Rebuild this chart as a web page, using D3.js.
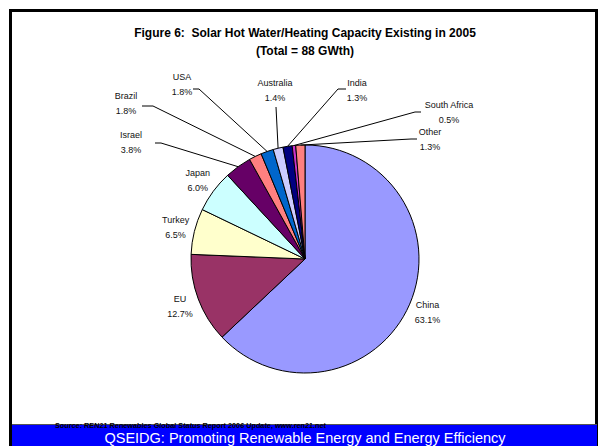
<!doctype html>
<html>
  <head>
    <title>Solar hot water capacity 2005</title>
    <style>
      body { margin: 0; background: #fff; }
      svg { display: block; font-family: "Liberation Sans", Arial, sans-serif; }
      .pre { white-space: pre; }
    </style>
  </head>
  <script src="https://cdnjs.cloudflare.com/ajax/libs/d3/7.8.5/d3.min.js"></script>
  <body>
    <svg id="chart" width="600" height="446"></svg>
    <script>

    // data (percent of 88 GWth)
    var countries = ["China", "EU", "Turkey", "Japan", "Israel", "Brazil", "USA", "Australia", "India", "South Africa", "Other"];
    var shares = [63.1, 12.7, 6.5, 6.0, 3.8, 1.8, 1.8, 1.4, 1.3, 0.5, 1.3];

    var sliceColors = ["#9999FF", "#993366", "#FFFFCC", "#CCFFFF", "#660066", "#FF8080", "#0066CC", "#CCCCFF", "#000080", "#CC33CC", "#FF8080"];

    // hand placed labels with leader lines (label x, name-line y, line start, elbow)
    var leaderLabels = {
      "Israel":       { x: 131, y: 135, sx: 155, sy: 143, ex: 161 },
      "Brazil":       { x: 126, y: 96,  sx: 142, sy: 106, ex: 153 },
      "USA":          { x: 182, y: 77,  sx: 193, sy: 89,  ex: 199 },
      "Australia":    { x: 275, y: 83,  sx: 276, sy: 107, ex: 276 },
      "India":        { x: 357, y: 83,  sx: 346, sy: 89,  ex: 338 },
      "South Africa": { x: 449, y: 105, sx: 421, sy: 112, ex: 415 },
      "Other":        { x: 430, y: 132, sx: 417, sy: 139, ex: 411 }
    };

    var svg = d3.select("#chart");
    var cx = 305, cy = 259, r = 114;

    // frame
    svg.append("rect")
      .attr("x", 10.5).attr("y", 10.5)
      .attr("width", 586).attr("height", 440)
      .attr("fill", "#fff")
      .attr("stroke", "#000").attr("stroke-width", 3);

    // title
    svg.append("text")
      .attr("class", "pre")
      .attr("x", 305).attr("y", 37)
      .attr("text-anchor", "middle")
      .style("font-weight", "bold").style("font-size", "12px")
      .text("Figure 6:  Solar Hot Water/Heating Capacity Existing in 2005");
    svg.append("text")
      .attr("x", 305).attr("y", 55)
      .attr("text-anchor", "middle")
      .style("font-weight", "bold").style("font-size", "12px")
      .text("(Total = 88 GWth)");

    var rows = countries.map(function(c, i) { return { name: c, value: shares[i], color: sliceColors[i] }; });

    var pie = d3.pie().sort(null).value(function(d) { return d.value; });
    var arc = d3.arc().innerRadius(0).outerRadius(r);
    var edgeArc = d3.arc().innerRadius(r).outerRadius(r);
    var labelArc = d3.arc().innerRadius(r * 1.17).outerRadius(r * 1.17);

    var g = svg.append("g").attr("transform", "translate(" + cx + "," + cy + ")");
    var arcs = pie(rows);

    g.selectAll("path")
      .data(arcs)
      .enter().append("path")
      .attr("d", arc)
      .attr("fill", function(d) { return d.data.color; })
      .attr("stroke", "#000")
      .attr("stroke-width", 1)
      .attr("stroke-linejoin", "round");

    // labels
    arcs.forEach(function(d) {
      var name = d.data.name;
      var lx, ly;
      var spot = leaderLabels[name];
      if (spot) {
        lx = spot.x; ly = spot.y;
        var e = edgeArc.centroid(d);
        var pts = [[spot.sx, spot.sy], [spot.ex, spot.sy], [cx + e[0], cy + e[1]]];
        if (name === "Australia") pts = [[spot.sx, spot.sy], [cx + e[0], cy + e[1]]];
        svg.append("path")
          .attr("d", d3.line()(pts))
          .attr("fill", "none")
          .attr("stroke", "#000")
          .attr("stroke-width", 1);
      } else {
        var c = labelArc.centroid(d);
        lx = cx + c[0]; ly = cy + c[1] - 7;
      }
      var t = svg.append("text")
        .attr("text-anchor", "middle")
        .style("font-size", "9px")
        .attr("fill", "#111");
      t.append("tspan").attr("x", lx).attr("y", ly + 3.2).text(name);
      t.append("tspan").attr("x", lx).attr("y", ly + 18.2).text(d.data.value.toFixed(1) + "%");
    });

    // bottom banner
    svg.append("rect")
      .attr("x", 12).attr("y", 425)
      .attr("width", 585).attr("height", 21)
      .attr("fill", "#0000FF");
    svg.append("line")
      .attr("x1", 12).attr("x2", 597)
      .attr("y1", 424.5).attr("y2", 424.5)
      .attr("stroke", "#555").attr("stroke-width", 1);

    svg.append("text")
      .attr("x", 55).attr("y", 428)
      .style("font-weight", "bold").style("font-size", "8px")
      .attr("textLength", 271).attr("lengthAdjust", "spacingAndGlyphs")
      .text("Source: REN21 Renewables Global Status Report 2006 Update, www.ren21.net");

    svg.append("text")
      .attr("x", 305).attr("y", 443)
      .attr("text-anchor", "middle")
      .style("font-size", "14.5px")
      .attr("fill", "#fff")
      .text("QSEIDG: Promoting Renewable Energy and Energy Efficiency");

  </script>
  </body>
</html>
